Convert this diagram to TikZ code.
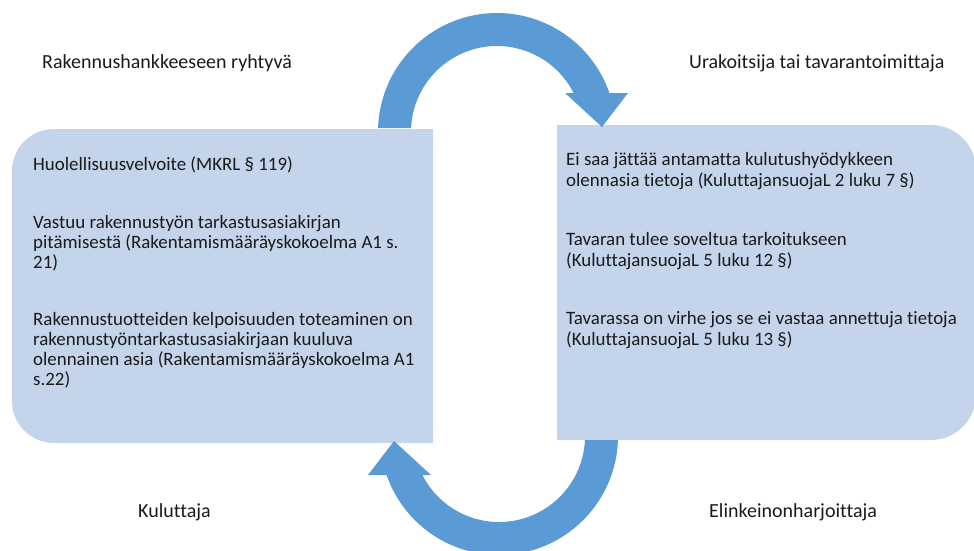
\documentclass[tikz,border=0pt]{standalone}
\usepackage{fontspec}
\setmainfont{Carlito}[RawFeature={-liga;-clig;-calt;-dlig}]
\definecolor{boxfill}{HTML}{C4D4EA}
\definecolor{arrowblue}{HTML}{5B9BD5}
\definecolor{inktext}{HTML}{1A1A1A}
\tikzset{
  cyclearrow/.pic={
    \fill[arrowblue] (178.07:119) arc[start angle=178.07, end angle=19.13, radius=119]
      -- (131,39) -- (105,5) -- (68,39) -- (76.6,39)
      arc[start angle=26.97, end angle=177.33, radius=86] -- cycle;
  },
  heading/.style={anchor=base west, inner sep=0pt, text=inktext,
    font=\fontsize{20}{24}\selectfont},
  boxline/.style={anchor=base west, inner sep=0pt, text=inktext,
    font=\fontsize{18.9}{20}\selectfont},
}
\begin{document}
\begin{tikzpicture}[x=1pt,y=1pt]
\useasboundingbox (0,0) rectangle (974,-550);
\clip (0,0) rectangle (974,-550);

% the two process boxes
\fill[boxfill] (433,-129) -- (54,-129) arc[start angle=90, end angle=180, radius=42]
  -- (12,-401) arc[start angle=180, end angle=270, radius=42] -- (433,-443) -- cycle;
\fill[boxfill] (557,-125) -- (931,-125) arc[start angle=90, end angle=0, radius=45]
  -- (976,-395) arc[start angle=0, end angle=-90, radius=45] -- (557,-440) -- cycle;

% circular arrows between the boxes
\pic at (497,-132) {cyclearrow};
\pic[rotate=180] at (499,-436) {cyclearrow};

% party labels
\node[heading] (partyA) at (42,-68) {Rakennushankkeeseen ryhtyvä};
\node[heading] (partyB) at (689,-68) {Urakoitsija tai tavarantoimittaja};
\node[heading] (partyC) at (138,-517) {Kuluttaja};
\node[heading] (partyD) at (709,-517) {Elinkeinonharjoittaja};

% duties of the first party
\node[boxline] (a1) at (33,-170) {Huolellisuusvelvoite (MKRL § 119)};
\node[boxline] (a2) at (33,-228) {Vastuu rakennustyön tarkastusasiakirjan};
\node[boxline] (a3) at (33,-248) {pitämisestä (Rakentamismääräyskokoelma A1 s.};
\node[boxline] (a4) at (33,-268) {21)};
\node[boxline] (a5) at (33,-325) {Rakennustuotteiden kelpoisuuden toteaminen on};
\node[boxline] (a6) at (33,-345) {rakennustyöntarkastusasiakirjaan kuuluva};
\node[boxline] (a7) at (33,-365) {olennainen asia (Rakentamismääräyskokoelma A1};
\node[boxline] (a8) at (33,-385) {s.22)};

% duties of the second party
\node[boxline] (b1) at (566,-165) {Ei saa jättää antamatta kulutushyödykkeen};
\node[boxline] (b2) at (566,-186) {olennasia tietoja (KuluttajansuojaL 2 luku 7 §)};
\node[boxline] (b3) at (566,-245) {Tavaran tulee soveltua tarkoitukseen};
\node[boxline] (b4) at (566,-266) {(KuluttajansuojaL 5 luku 12 §)};
\node[boxline] (b5) at (566,-324) {Tavarassa on virhe jos se ei vastaa annettuja tietoja};
\node[boxline] (b6) at (566,-345) {(KuluttajansuojaL 5 luku 13 §)};
\end{tikzpicture}
\end{document}
